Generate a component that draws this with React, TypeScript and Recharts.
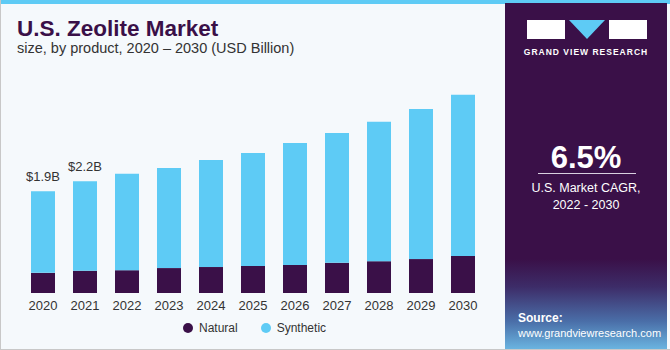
import { BarChart, Bar, XAxis, YAxis, LabelList } from "recharts";

const years = ["2020", "2021", "2022", "2023", "2024", "2025", "2026", "2027", "2028", "2029", "2030"];
const natural = [0.38, 0.42, 0.43, 0.47, 0.49, 0.51, 0.53, 0.57, 0.6, 0.64, 0.7];
const synthetic = [1.54, 1.69, 1.82, 1.89, 2.02, 2.13, 2.3, 2.45, 2.63, 2.83, 3.04];
const totalLabels = ["$1.9B", "$2.2B", "", "", "", "", "", "", "", "", ""];

const NATURAL = "#3a1048";
const SYNTHETIC = "#5ecbf5";
const FONT = "'Liberation Sans', Arial, sans-serif";

const data = years.map((year, i) => ({
  year,
  natural: natural[i],
  synthetic: synthetic[i],
  label: totalLabels[i],
}));

function TopLabel(props: any) {
  const { x, y, width, value } = props;
  if (!value) return null;
  return (
    <text x={x + width / 2} y={y - 10} textAnchor="middle" fontSize={13} fill="#333" fontFamily={FONT}>
      {value}
    </text>
  );
}

export default function App() {
  return (
    <div style={{ position: "relative", width: 670, height: 350, background: "#f5f9fc", fontFamily: FONT, overflow: "hidden" }}>
      <style>{"body{margin:0}"}</style>
      <div style={{ position: "absolute", left: 0, top: 0, width: 670, height: 4, background: "#5ecbf5" }} />
      <div style={{ position: "absolute", left: 0, top: 0, width: 1, height: 350, background: "#c8c8c8" }} />
      <div style={{ position: "absolute", left: 0, bottom: 0, width: 670, height: 1, background: "#c8c8c8" }} />

      <div style={{ position: "absolute", left: 17, top: 16, fontSize: 22.5, fontWeight: 700, color: NATURAL }}>
        U.S. Zeolite Market
      </div>
      <div style={{ position: "absolute", left: 17, top: 40, fontSize: 14.5, color: "#333" }}>
        size, by product, 2020 – 2030 (USD Billion)
      </div>

      <div style={{ position: "absolute", left: 0, top: 0 }}>
        <BarChart width={505} height={350} data={data} margin={{ top: 81, right: 21, bottom: 27, left: 22 }} barSize={24}>
          <XAxis
            dataKey="year"
            height={30}
            axisLine={false}
            tickLine={false}
            tick={{ fill: "#333", fontSize: 13, fontFamily: FONT }}
            tickMargin={2}
          />
          <YAxis hide domain={[0, 4]} />
          <Bar dataKey="natural" stackId="a" fill={NATURAL} isAnimationActive={false} />
          <Bar dataKey="synthetic" stackId="a" fill={SYNTHETIC} isAnimationActive={false}>
            <LabelList dataKey="label" content={<TopLabel />} />
          </Bar>
        </BarChart>
      </div>

      <div style={{ position: "absolute", left: 183, top: 321, display: "flex", alignItems: "center", fontSize: 12, color: "#333" }}>
        <span style={{ width: 10, height: 10, borderRadius: 5, background: NATURAL, marginRight: 6 }} />
        <span style={{ marginRight: 23 }}>Natural</span>
        <span style={{ width: 10, height: 10, borderRadius: 5, background: SYNTHETIC, marginRight: 6 }} />
        <span>Synthetic</span>
      </div>

      <div
        style={{
          position: "absolute",
          left: 505,
          top: 3,
          width: 162,
          height: 346,
          background: "linear-gradient(to bottom, #3a1048 0%, #3a1048 74%, #3d2c68 82%, #4a6ea8 92%, #6ab4e0 100%)",
          color: "#fff",
        }}
      >
        <div style={{ position: "absolute", left: 22, top: 17, width: 38, height: 19, background: "#fff" }} />
        <div
          style={{
            position: "absolute",
            left: 64,
            top: 17,
            width: 0,
            height: 0,
            borderLeft: "18px solid transparent",
            borderRight: "18px solid transparent",
            borderTop: "19px solid #5ecbf5",
          }}
        />
        <div style={{ position: "absolute", left: 104, top: 17, width: 38, height: 19, background: "#fff" }} />
        <div style={{ position: "absolute", left: 0, top: 44, width: 162, textAlign: "center", fontSize: 8.5, fontWeight: 700, letterSpacing: 1 }}>
          GRAND VIEW RESEARCH
        </div>

        <div style={{ position: "absolute", left: 0, top: 137, width: 162, textAlign: "center", fontSize: 31, fontWeight: 700 }}>
          6.5%
        </div>
        <div style={{ position: "absolute", left: 33, top: 170, width: 98, height: 1, background: "#d8d0e0" }} />
        <div style={{ position: "absolute", left: 0, top: 177, width: 162, textAlign: "center", fontSize: 12.5, lineHeight: "17px" }}>
          U.S. Market CAGR,
          <br />
          2022 - 2030
        </div>

        <div style={{ position: "absolute", left: 13, top: 308, fontSize: 11, lineHeight: "15px" }}>
          <div style={{ fontWeight: 700, fontSize: 12 }}>Source:</div>
          <div>www.grandviewresearch.com</div>
        </div>
      </div>
    </div>
  );
}
